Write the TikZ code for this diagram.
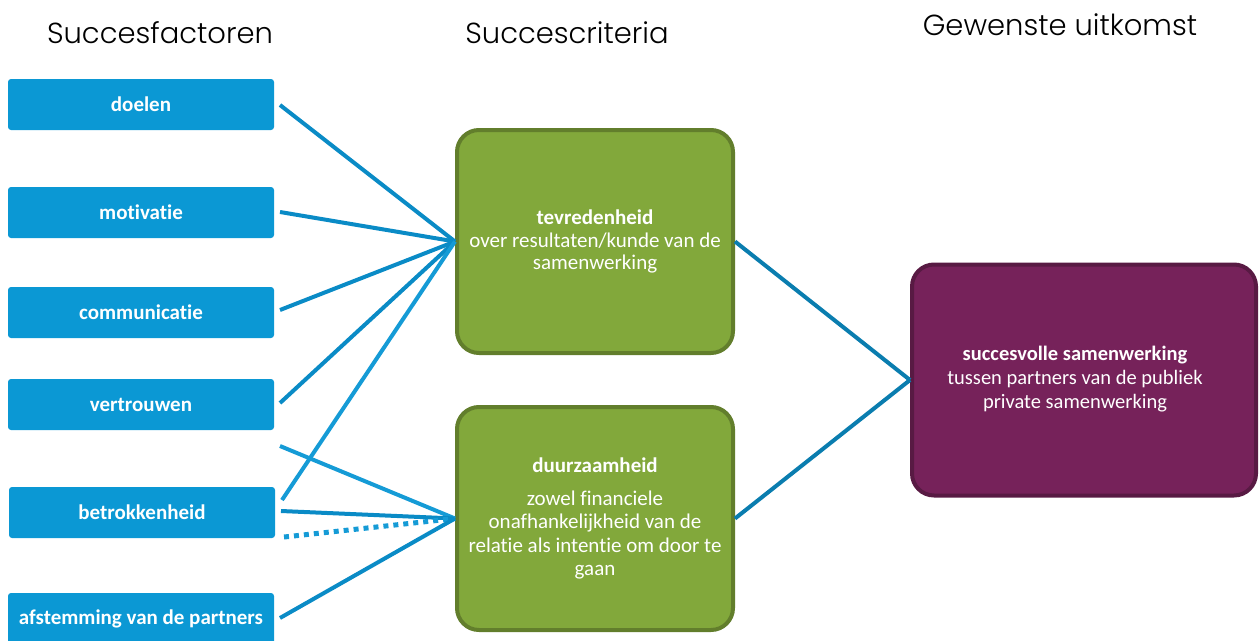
\documentclass[tikz,border=0pt]{standalone}
\usepackage{fontspec}
\setmainfont[Ligatures={NoCommon}]{Carlito}
\IfFontExistsTF{Poppins Light}{\newfontfamily\titlefont{Poppins Light}}{\newfontfamily\titlefont{Poppins}}
\definecolor{boxblue}{HTML}{0B98D4}
\definecolor{lineblue}{HTML}{0A8BC6}
\definecolor{linelight}{HTML}{159BD6}
\definecolor{linedark}{HTML}{0A7DAF}
\definecolor{grfill}{HTML}{82A83B}
\definecolor{grdraw}{HTML}{627E2C}
\definecolor{pufill}{HTML}{76225A}
\definecolor{pudraw}{HTML}{581A43}
\tikzset{
  factor/.style={fill=boxblue, rounded corners=3pt, minimum width=266pt, minimum height=51pt, inner sep=0pt, text=white, font=\fontsize{21}{24}\selectfont\bfseries},
  crit/.style={fill=grfill, draw=grdraw, line width=4pt, rounded corners=22pt, minimum width=276pt, minimum height=223pt, inner sep=0pt, text=white, align=center},
  outcome/.style={fill=pufill, draw=pudraw, line width=4pt, rounded corners=22pt, minimum width=344pt, minimum height=231pt, inner sep=0pt, text=white, font=\fontsize{20.5}{24}\selectfont},
  coltitle/.style={font=\titlefont\fontsize{29}{32}\selectfont, text=black},
  link/.style={line width=4pt, color=lineblue},
  linkr/.style={line width=4pt, color=linedark},
}
\begin{document}
\begin{tikzpicture}[x=1pt,y=-1pt]
\useasboundingbox (0,0) rectangle (1260,640);
% titles
\node[coltitle] (t1) at (160,33) {Succesfactoren};
\node[coltitle] (t2) at (567,33) {Succescriteria};
\node[coltitle] (t3) at (1060,25) {Gewenste uitkomst};
% factors
\node[factor] (f1) at (141,104.5) {doelen};
\node[factor] (f2) at (141,212.5) {motivatie};
\node[factor] (f3) at (141,312.5) {communicatie};
\node[factor] (f4) at (141,404.5) {vertrouwen};
\node[factor] (f5) at (142,512.5) {betrokkenheid};
\node[factor] (f6) at (141,618.5) {afstemming van de partners};
% criteria
\node[crit, font=\fontsize{21}{22.5}\selectfont] (tev) at (595,241.5) {\textbf{tevredenheid}\\over resultaten/kunde van de\\samenwerking};
\node[crit, font=\fontsize{21}{23.5}\selectfont] (dur) at (595,518.5) {\textbf{duurzaamheid}\\[9pt]zowel financiele\\onafhankelijkheid van de\\relatie als intentie om door te\\gaan};
% outcome
\node[outcome] (pur) at (1084,380) {\hspace*{-18pt}\begin{tabular}{@{}c@{}}\textbf{succesvolle samenwerking}\\tussen partners van de publiek\\private samenwerking\end{tabular}};
% connector start points
\coordinate (s1) at (280,105);
\coordinate (s2) at (280,212);
\coordinate (s3) at (280,310);
\coordinate (s4) at (280,403);
\coordinate (s5) at (282,500);
\coordinate (s6) at (280,446);
\coordinate (s7) at (281,511);
\coordinate (s8) at (284,537);
\coordinate (s9) at (280,618);
\draw[link] (s1) -- (tev.west);
\draw[link] (s2) -- (tev.west);
\draw[link] (s3) -- (tev.west);
\draw[link] (s4) -- (tev.west);
\draw[link, color=linelight] (s5) -- (tev.west);
\draw[link, color=linelight] (s6) -- (dur.west);
\draw[link] (s7) -- (dur.west);
\draw[link, color=linelight, line width=5pt, dash pattern=on 5pt off 5pt] (s8) -- (dur.west);
\draw[link] (s9) -- (dur.west);
\draw[linkr] (tev.east) -- (pur.west);
\draw[linkr] (dur.east) -- (pur.west);
\end{tikzpicture}
\end{document}
